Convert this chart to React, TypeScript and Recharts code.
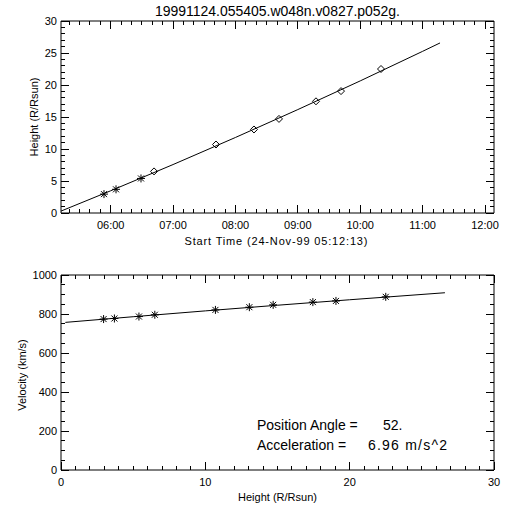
import { ComposedChart, Scatter, XAxis, YAxis, ReferenceLine } from "recharts";

const FONT = "'Liberation Sans', Arial, sans-serif";

// Height-time panel, x in decimal hours on 24-Nov-99
const timeDomain = [5.204, 12.144];
const fitTimes = [5.204, 6, 7, 8, 9, 10, 11, 11.279];
const fitHeights = [0.3, 3.47, 7.57, 11.8, 16.16, 20.64, 25.26, 26.57];
const obsTimes = [5.893, 6.086, 6.486, 6.695, 7.688, 8.297, 8.698, 9.291, 9.692, 10.333];
const obsHeights = [2.95, 3.7, 5.4, 6.5, 10.7, 13.05, 14.7, 17.45, 19.05, 22.5];
const asteriskCount = 3; // first frames drawn as asterisks, the rest as diamonds

// Velocity-height panel
const velFitHeights = [0.3, 5, 10, 15, 20, 26.6];
const velFitValues = [757, 786, 816, 845, 873, 909];
const obsVelocities = [774, 777, 787, 796, 821, 835, 847, 861, 867, 888];

// axes
const timeMajor = [6, 7, 8, 9, 10, 11, 12];
const timeLabels = ["06:00", "07:00", "08:00", "09:00", "10:00", "11:00", "12:00"];
const heightMajor = [0, 5, 10, 15, 20, 25, 30];
const heightLabels = ["0", "5", "10", "15", "20", "25", "30"];
const rMajor = [0, 10, 20, 30];
const rLabels = ["0", "10", "20", "30"];
const velMajor = [0, 200, 400, 600, 800, 1000];
const velLabels = ["0", "200", "400", "600", "800", "1000"];

const steps = (from: number, to: number, step: number) => {
	const out: number[] = [];
	for (let v = from; v <= to + 1e-9; v += step) out.push(Math.round(v * 1000) / 1000);
	return out;
};

const timeTicks = steps(5 + 20 / 60, 12, 1 / 6);
const heightTicks = steps(0, 30, 1);
const rTicks = steps(0, 30, 1);
const velTicks = steps(0, 1000, 50);

const topFit = fitTimes.map((t, i) => ({ x: t, y: fitHeights[i] }));
const topObs = obsTimes.map((t, i) => ({ x: t, y: obsHeights[i] }));
const botFit = velFitHeights.map((h, i) => ({ x: h, y: velFitValues[i] }));
const botObs = obsHeights.map((h, i) => ({ x: h, y: obsVelocities[i] }));

const PLOT_W = 433;
const MAJOR = 8;
const MINOR = 4;

const findMajor = (majors: number[], v: number) =>
	majors.findIndex((m) => Math.abs(m - v) < 1e-3);

// bottom axis tick, also mirrors the tick onto the top edge
function XTick(props: any) {
	const { x, y, payload, majors, labels, plotH } = props;
	const i = findMajor(majors, payload.value);
	const len = i >= 0 ? MAJOR : MINOR;
	const top = y - plotH;
	return (
		<g>
			<line x1={x} x2={x} y1={y} y2={y - len} stroke="#000" shapeRendering="crispEdges" />
			<line x1={x} x2={x} y1={top} y2={top + len} stroke="#000" shapeRendering="crispEdges" />
			{i >= 0 && (
				<text x={x} y={y + 16} textAnchor="middle" fontSize={11} fontFamily={FONT} fill="#000">
					{labels[i]}
				</text>
			)}
		</g>
	);
}

// left axis tick, mirrored onto the right edge
function YTick(props: any) {
	const { x, y, payload, majors, labels } = props;
	const i = findMajor(majors, payload.value);
	const len = i >= 0 ? MAJOR : MINOR;
	const right = x + PLOT_W;
	return (
		<g>
			<line x1={x} x2={x + len} y1={y} y2={y} stroke="#000" shapeRendering="crispEdges" />
			<line x1={right} x2={right - len} y1={y} y2={y} stroke="#000" shapeRendering="crispEdges" />
			{i >= 0 && (
				<text x={x - 4} y={y} dy="0.35em" textAnchor="end" fontSize={11} fontFamily={FONT} fill="#000">
					{labels[i]}
				</text>
			)}
		</g>
	);
}

const Asterisk = (p: any) => (
	<g stroke="#000" strokeWidth={1}>
		<line x1={p.cx - 4} x2={p.cx + 4} y1={p.cy} y2={p.cy} />
		<line x1={p.cx} x2={p.cx} y1={p.cy - 4} y2={p.cy + 4} />
		<line x1={p.cx - 3} x2={p.cx + 3} y1={p.cy - 3} y2={p.cy + 3} />
		<line x1={p.cx - 3} x2={p.cx + 3} y1={p.cy + 3} y2={p.cy - 3} />
	</g>
);

const Diamond = (p: any) => (
	<polygon
		points={`${p.cx - 3.5},${p.cy} ${p.cx},${p.cy - 3.5} ${p.cx + 3.5},${p.cy} ${p.cx},${p.cy + 3.5}`}
		fill="none"
		stroke="#000"
	/>
);

const NoDot = () => <g />;

const axisCommon = {
	type: "number" as const,
	allowDataOverflow: true,
	interval: 0 as const,
	tickSize: 0,
	tickMargin: 0,
	tickLine: false,
	axisLine: { stroke: "#000" },
};

export default function App() {
	return (
		<div style={{ position: "absolute", left: 0, top: 0, width: 512, height: 512, background: "#fff" }}>
			<div style={{ position: "absolute", left: 0, top: 0 }}>
				<ComposedChart width={512} height={256} margin={{ top: 21, right: 18, bottom: 42, left: 60 }}>
					<XAxis
						{...axisCommon}
						dataKey="x"
						domain={timeDomain}
						ticks={timeTicks}
						height={1}
						tick={(p: any) => <XTick {...p} majors={timeMajor} labels={timeLabels} plotH={192} />}
					/>
					<YAxis
						{...axisCommon}
						dataKey="y"
						domain={[0, 30]}
						ticks={heightTicks}
						width={1}
						tick={(p: any) => <YTick {...p} majors={heightMajor} labels={heightLabels} />}
					/>
					<ReferenceLine y={30} stroke="#000" />
					<ReferenceLine x={timeDomain[1]} stroke="#000" />
					<Scatter data={topFit} line={{ stroke: "#000", strokeWidth: 1 }} shape={NoDot} isAnimationActive={false} />
					<Scatter data={topObs.slice(0, asteriskCount)} shape={Asterisk} isAnimationActive={false} />
					<Scatter data={topObs.slice(asteriskCount)} shape={Diamond} isAnimationActive={false} />
				</ComposedChart>
			</div>
			<div style={{ position: "absolute", left: 0, top: 256 }}>
				<ComposedChart width={512} height={256} margin={{ top: 19, right: 18, bottom: 41, left: 60 }}>
					<XAxis
						{...axisCommon}
						dataKey="x"
						domain={[0, 30]}
						ticks={rTicks}
						height={1}
						tick={(p: any) => <XTick {...p} majors={rMajor} labels={rLabels} plotH={195} />}
					/>
					<YAxis
						{...axisCommon}
						dataKey="y"
						domain={[0, 1000]}
						ticks={velTicks}
						width={1}
						tick={(p: any) => <YTick {...p} majors={velMajor} labels={velLabels} />}
					/>
					<ReferenceLine y={1000} stroke="#000" />
					<ReferenceLine x={30} stroke="#000" />
					<Scatter data={botFit} line={{ stroke: "#000", strokeWidth: 1 }} shape={NoDot} isAnimationActive={false} />
					<Scatter data={botObs} shape={Asterisk} isAnimationActive={false} />
				</ComposedChart>
			</div>
			<svg
				width={512}
				height={512}
				style={{ position: "absolute", left: 0, top: 0, pointerEvents: "none" }}
				fontFamily={FONT}
				fill="#000"
			>
				<text x={277.5} y={16} textAnchor="middle" fontSize={14} textLength={245}>
					19991124.055405.w048n.v0827.p052g.
				</text>
				<text x={276} y={245} textAnchor="middle" fontSize={11} textLength={183}>
					Start Time (24-Nov-99 05:12:13)
				</text>
				<text x={38} y={117} textAnchor="middle" fontSize={11} transform="rotate(-90 38 117)">
					Height (R/Rsun)
				</text>
				<text x={26} y={375} textAnchor="middle" fontSize={11} transform="rotate(-90 26 375)">
					Velocity (km/s)
				</text>
				<text x={277.5} y={501} textAnchor="middle" fontSize={11}>
					Height (R/Rsun)
				</text>
				<text x={257} y={430} fontSize={14}>Position Angle =</text>
				<text x={383} y={430} fontSize={14}>52.</text>
				<text x={257} y={450} fontSize={14}>Acceleration =</text>
				<text x={368} y={450} fontSize={14} textLength={79}>6.96 m/s^2</text>
			</svg>
		</div>
	);
}
